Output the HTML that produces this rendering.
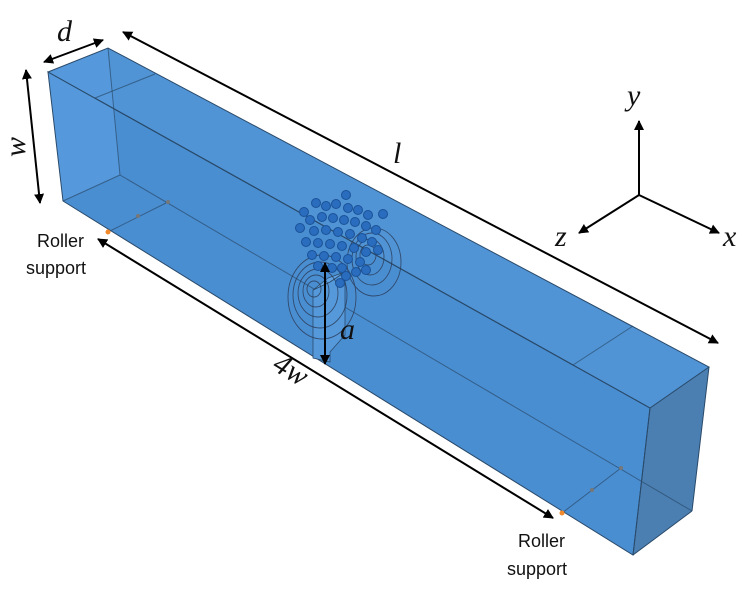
<!DOCTYPE html>
<html><head><meta charset="utf-8"><style>
html,body{margin:0;padding:0;background:#fff;width:750px;height:590px;overflow:hidden}
svg{display:block}
.m{font-family:"Liberation Serif",serif;font-style:italic;font-size:30px;fill:#111}
.t{font-family:"Liberation Sans",sans-serif;font-size:18px;fill:#111}
</style></head><body>
<svg width="750" height="590" viewBox="0 0 750 590" xmlns="http://www.w3.org/2000/svg">
<defs>
<marker id="a" viewBox="0 0 10 10" refX="9" refY="5" markerWidth="5" markerHeight="5" orient="auto-start-reverse"><path d="M0,0L10,5L0,10z" fill="#000"/></marker>
</defs>
<polygon points="48,72 108,48 709,367 650,408" fill="#5094d6"/>
<polygon points="48,72 650,408 633,555 63,201" fill="#4a8ed2"/>
<polygon points="48,72 108,48 120,175 63,201" fill="#5599dc"/>
<polygon points="650,408 709,367 692,511 633,555" fill="#4b7fb2"/>
<g stroke="#2a4a6a" stroke-width="1" fill="none">
<polygon points="48,72 108,48 709,367 650,408"/>
<polygon points="48,72 650,408 633,555 63,201"/>
<line x1="650" y1="408" x2="633" y2="555"/>
<line x1="709" y1="367" x2="692" y2="511"/>
<line x1="692" y1="511" x2="633" y2="555"/>
<g stroke-opacity="0.7">
<line x1="108" y1="48" x2="120" y2="175"/>
<line x1="120" y1="175" x2="692" y2="511"/>
<line x1="120" y1="175" x2="63" y2="201"/>
<line x1="95" y1="98" x2="155" y2="74"/>
<line x1="573" y1="365" x2="633" y2="326"/>
<line x1="95" y1="98" x2="573" y2="365"/>
<line x1="108" y1="232" x2="168" y2="202"/>
<line x1="562" y1="513" x2="621" y2="468"/>
</g>
</g>
<g fill="#777"><circle cx="138" cy="216" r="2"/><circle cx="168" cy="202" r="2"/><circle cx="592" cy="490" r="2"/><circle cx="621" cy="468" r="2"/></g>
<g fill="#f08a2a"><circle cx="108" cy="232" r="2.5"/><circle cx="562" cy="513" r="2.5"/></g>
<polygon points="313,290 330,282 345,272 345,335 330,352 330,362 313,358" fill="#5599db" stroke="#2a4a6a" stroke-width="0.8"/>
<polygon points="313,290 330,282 345,272 328,278" fill="#62a4e4" stroke="#2a4a6a" stroke-width="0.8"/>
<g stroke="#2a3a55" stroke-width="0.9" fill="none" opacity="0.8">
<ellipse cx="314" cy="289" rx="7" ry="8"/>
<ellipse cx="316" cy="291" rx="13" ry="16"/>
<ellipse cx="318" cy="293" rx="20" ry="24"/>
<ellipse cx="320" cy="295" rx="27" ry="33"/>
<ellipse cx="322" cy="297" rx="34" ry="42"/>
<ellipse cx="368" cy="255" rx="8" ry="10"/>
<ellipse cx="370" cy="257" rx="14" ry="18"/>
<ellipse cx="372" cy="259" rx="20" ry="26"/>
<ellipse cx="374" cy="262" rx="27" ry="34"/>
</g>
<g fill="#2a6cbe" stroke="#1b5296" stroke-width="1">
<circle cx="346" cy="195" r="4.5"/><circle cx="383" cy="214" r="4.5"/><circle cx="304" cy="212" r="4.5"/>
<circle cx="316" cy="203" r="4.5"/><circle cx="326" cy="206" r="4.5"/><circle cx="336" cy="204" r="4.5"/>
<circle cx="348" cy="208" r="4.5"/><circle cx="358" cy="210" r="4.5"/><circle cx="368" cy="215" r="4.5"/>
<circle cx="310" cy="220" r="4.5"/><circle cx="322" cy="217" r="4.5"/><circle cx="333" cy="218" r="4.5"/>
<circle cx="344" cy="220" r="4.5"/><circle cx="355" cy="222" r="4.5"/><circle cx="366" cy="226" r="4.5"/>
<circle cx="376" cy="230" r="4.5"/><circle cx="314" cy="231" r="4.5"/><circle cx="326" cy="230" r="4.5"/>
<circle cx="338" cy="232" r="4.5"/><circle cx="350" cy="234" r="4.5"/><circle cx="362" cy="238" r="4.5"/>
<circle cx="372" cy="242" r="4.5"/><circle cx="306" cy="242" r="4.5"/><circle cx="318" cy="243" r="4.5"/>
<circle cx="330" cy="244" r="4.5"/><circle cx="342" cy="246" r="4.5"/><circle cx="354" cy="248" r="4.5"/>
<circle cx="366" cy="252" r="4.5"/><circle cx="312" cy="255" r="4.5"/><circle cx="324" cy="256" r="4.5"/>
<circle cx="336" cy="257" r="4.5"/><circle cx="348" cy="259" r="4.5"/><circle cx="360" cy="262" r="4.5"/>
<circle cx="318" cy="266" r="4.5"/><circle cx="342" cy="268" r="4.5"/><circle cx="366" cy="270" r="4.5"/>
<circle cx="346" cy="276" r="4.5"/><circle cx="300" cy="228" r="4.5"/><circle cx="378" cy="250" r="4.5"/>
<circle cx="332" cy="268" r="4.5"/><circle cx="356" cy="272" r="4.5"/><circle cx="340" cy="283" r="4.5"/>
</g>
<g stroke="#000" stroke-width="2" fill="none">
<line x1="44" y1="62" x2="103" y2="40" marker-start="url(#a)" marker-end="url(#a)"/>
<line x1="26" y1="70" x2="40" y2="203" marker-start="url(#a)" marker-end="url(#a)"/>
<line x1="123" y1="32" x2="718" y2="343" marker-start="url(#a)" marker-end="url(#a)"/>
<line x1="98" y1="239" x2="553" y2="518" marker-start="url(#a)" marker-end="url(#a)"/>
<line x1="325" y1="263" x2="325" y2="364" marker-start="url(#a)" marker-end="url(#a)"/>
<line x1="639" y1="195" x2="639" y2="121" marker-end="url(#a)"/>
<line x1="639" y1="195" x2="719" y2="233" marker-end="url(#a)"/>
<line x1="639" y1="195" x2="579" y2="233" marker-end="url(#a)"/>
</g>
<text class="m" x="57" y="41">d</text>
<text class="m" transform="translate(25,147) rotate(-90)" text-anchor="middle">w</text>
<text class="m" x="393" y="163">l</text>
<text class="m" transform="translate(286,378) rotate(31)" text-anchor="middle">4w</text>
<text class="m" x="340" y="339">a</text>
<text class="m" x="627" y="105">y</text>
<text class="m" x="555" y="246">z</text>
<text class="m" x="723" y="246">x</text>
<text class="t" x="37" y="247">Roller</text>
<text class="t" x="26" y="274">support</text>
<text class="t" x="518" y="547">Roller</text>
<text class="t" x="507" y="575">support</text>
</svg>
</body></html>
